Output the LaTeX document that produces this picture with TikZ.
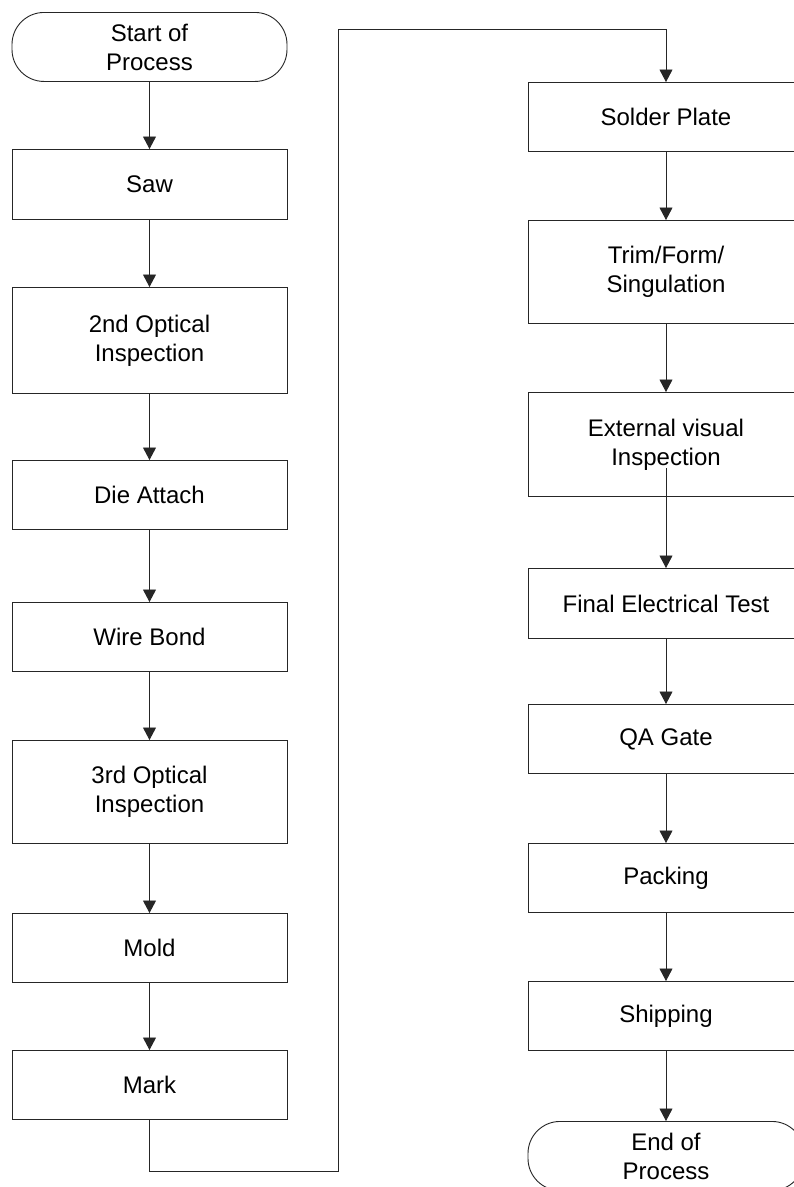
\documentclass[tikz,border=0pt]{standalone}
\usepackage{fontspec}
\setmainfont{Liberation Sans}
\usetikzlibrary{arrows.meta,calc}
\begin{document}
\begin{tikzpicture}[x=1pt,y=-1pt,
  every node/.style={font=\fontsize{24}{29}\selectfont, align=center, inner sep=0pt},
  procbox/.style={draw=black!85, line width=0.9pt, rectangle, minimum height=#1, anchor=north},
  leftbox/.style={procbox=#1, minimum width=275pt},
  rightbox/.style={procbox=#1, minimum width=276pt},
  termbox/.style={draw=black!85, line width=0.9pt, rectangle, rounded corners=32pt, minimum height=69pt, anchor=north},
  arr/.style={draw=black!85, line width=0.9pt, -{Triangle[length=12.5pt,width=13pt]}}]
\clip (0,0) rectangle (794,1187);
\fill[white] (0,0) rectangle (794,1187);
% left column
\node[termbox, minimum width=275pt] (start) at (149.5,12) {Start of\\Process};
\node[leftbox=70pt] (saw) at (149.5,149) {Saw};
\node[leftbox=106pt] (opt2) at (149.5,287) {2nd Optical\\Inspection};
\node[leftbox=69pt] (die) at (149.5,460) {Die Attach};
\node[leftbox=69pt] (wire) at (149.5,602) {Wire Bond};
\node[leftbox=103pt] (opt3) at (149.5,740) {3rd Optical\\Inspection};
\node[leftbox=69pt] (mold) at (149.5,913) {Mold};
\node[leftbox=69pt] (mark) at (149.5,1050) {Mark};
% right column
\node[rightbox=69pt] (solder) at (666,82) {Solder Plate};
\node[rightbox=103pt] (trim) at (666,220) {Trim/Form/\\Singulation};
\node[rightbox=104pt] (ext) at (666,392) {External visual\\Inspection};
\node[rightbox=70pt] (final) at (666,568) {Final Electrical Test};
\node[rightbox=69pt] (qa) at (666,704) {QA Gate};
\node[rightbox=69pt] (pack) at (666,843) {Packing};
\node[rightbox=69pt] (ship) at (666,981) {Shipping};
\node[termbox, minimum width=276pt] (end) at (666,1121) {End of\\Process};
% connectors left
\draw[arr] (start.south) -- (saw.north);
\draw[arr] (saw.south) -- (opt2.north);
\draw[arr] (opt2.south) -- (die.north);
\draw[arr] (die.south) -- (wire.north);
\draw[arr] (wire.south) -- (opt3.north);
\draw[arr] (opt3.south) -- (mold.north);
\draw[arr] (mold.south) -- (mark.north);
% link
\coordinate (c1) at (149.5,1171);
\coordinate (c2) at (338,1171);
\coordinate (c3) at (338,29);
\coordinate (c4) at (666,29);
\draw[arr] (mark.south) -- (c1) -- (c2) -- (c3) -- (c4) -- (solder.north);
% connectors right
\draw[arr] (solder.south) -- (trim.north);
\draw[arr] (trim.south) -- (ext.north);
\coordinate (extin) at (666,468);
\draw[arr] (extin) -- (final.north);
\draw[arr] (final.south) -- (qa.north);
\draw[arr] (qa.south) -- (pack.north);
\draw[arr] (pack.south) -- (ship.north);
\draw[arr] (ship.south) -- (end.north);
\end{tikzpicture}
\end{document}
